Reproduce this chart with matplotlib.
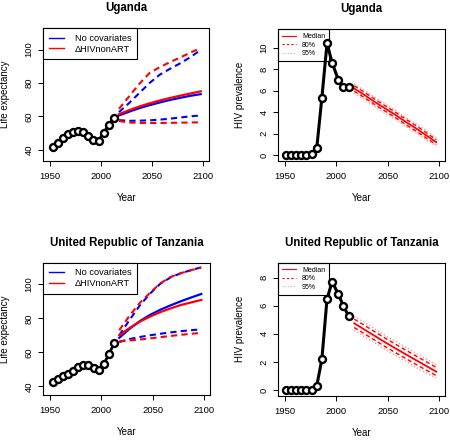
import matplotlib
matplotlib.use("Agg")
import matplotlib.pyplot as plt
from matplotlib.lines import Line2D

plt.rcParams['font.family'] = ['Liberation Sans', 'DejaVu Sans']

# ---------------- data ----------------
le_years = [1952.5, 1957.5, 1962.5, 1967.5, 1972.5, 1977.5, 1982.5, 1987.5,
            1992.5, 1997.5, 2002.5, 2007.5, 2012.5]
proj_years = [2017.5, 2027.5, 2037.5, 2047.5, 2057.5, 2067.5, 2077.5, 2087.5, 2097.5]
hiv_years = [1951, 1956, 1961, 1966, 1971, 1976, 1981, 1986, 1991, 1996, 2002, 2007, 2012]

# Uganda life expectancy
uga_le_obs = [41.5, 44.0, 47.0, 49.5, 50.5, 51.0, 50.5, 48.5, 46.0, 45.5, 50.0, 55.0, 59.0]
uga_nocov_med = [60.5, 62.8, 64.9, 66.7, 68.3, 69.8, 71.1, 72.3, 73.3]
uga_nocov_up = [62.5, 68.0, 74.0, 80.0, 85.0, 88.5, 91.8, 95.5, 99.8]
uga_nocov_lo = [57.7, 57.3, 57.4, 57.6, 58.0, 58.6, 59.3, 60.0, 60.5]
uga_hiv_med = [61.3, 63.7, 65.9, 67.8, 69.5, 71.0, 72.4, 73.7, 75.0]
uga_hiv_up = [64.5, 72.0, 79.5, 86.0, 89.5, 92.5, 95.3, 98.2, 101.0]
uga_hiv_lo = [57.2, 56.3, 56.0, 56.0, 56.0, 56.1, 56.2, 56.3, 56.4]

# Tanzania life expectancy
tza_le_obs = [42.7, 44.5, 46.0, 47.5, 49.2, 51.5, 52.3, 52.3, 50.6, 49.6, 53.1, 59.0, 65.3]
tza_nocov_med = [68.5, 73.8, 78.3, 82.0, 85.0, 87.6, 90.0, 92.2, 94.3]
tza_nocov_up = [70.0, 79.0, 87.5, 94.5, 100.3, 104.0, 106.5, 108.3, 110.0]
tza_nocov_lo = [66.0, 67.8, 69.0, 70.0, 70.9, 71.7, 72.4, 73.0, 73.5]
tza_hiv_med = [70.0, 74.3, 78.0, 81.0, 83.6, 85.8, 87.8, 89.3, 90.8]
tza_hiv_up = [73.0, 81.5, 89.0, 95.0, 100.5, 104.3, 106.5, 108.3, 109.8]
tza_hiv_lo = [66.5, 67.0, 67.5, 68.2, 68.9, 69.6, 70.3, 70.9, 71.4]

# HIV prevalence
uga_prev_obs = [0.0, 0.0, 0.0, 0.0, 0.0, 0.05, 0.65, 5.35, 10.4, 8.6, 7.0, 6.37, 6.37]
uga_prev_med = [6.2, 5.6, 4.95, 4.35, 3.75, 3.1, 2.5, 1.85, 1.2]
uga_prev_80u = [6.45, 5.85, 5.2, 4.6, 4.0, 3.35, 2.75, 2.1, 1.42]
uga_prev_80l = [5.95, 5.35, 4.7, 4.1, 3.5, 2.85, 2.25, 1.6, 0.98]
uga_prev_95u = [6.62, 6.02, 5.37, 4.77, 4.17, 3.52, 2.92, 2.27, 1.57]
uga_prev_95l = [5.78, 5.18, 4.53, 3.93, 3.33, 2.68, 2.08, 1.43, 0.85]

tza_prev_obs = [0.0, 0.0, 0.0, 0.0, 0.0, 0.02, 0.29, 2.19, 6.48, 7.72, 6.82, 5.99, 5.27]
tza_prev_med = [4.75, 4.3, 3.85, 3.4, 2.97, 2.55, 2.13, 1.72, 1.3]
tza_prev_80u = [5.05, 4.6, 4.15, 3.7, 3.27, 2.85, 2.43, 2.02, 1.6]
tza_prev_80l = [4.45, 4.0, 3.55, 3.1, 2.67, 2.25, 1.83, 1.42, 1.02]
tza_prev_95u = [5.25, 4.8, 4.35, 3.9, 3.47, 3.05, 2.63, 2.22, 1.78]
tza_prev_95l = [4.25, 3.8, 3.35, 2.9, 2.47, 2.05, 1.63, 1.22, 0.85]

x_ticks = [1950, 2000, 2050, 2100]
le_ticks = [40, 60, 80, 100]
uga_prev_ticks = [0, 2, 4, 6, 8, 10]
tza_prev_ticks = [0, 2, 4, 6, 8]

BLUE = '#0000FF'
RED = '#FF0000'
PINK = '#FF9A9A'

fig = plt.figure(figsize=(4.5, 4.4), dpi=100)

def style(ax, yticks, ylim, xlabel, ylabel, title):
    ax.set_xlim(1943.5, 2106)
    ax.set_ylim(*ylim)
    ax.set_xticks(x_ticks)
    ax.set_yticks(yticks)
    for s in ax.spines.values():
        s.set_linewidth(0.8)
    ax.tick_params(direction='out', length=3.5, width=0.7, labelsize=6.8)
    ax.tick_params(axis='x', pad=4.5)
    ax.tick_params(axis='y', pad=3.5, labelrotation=90)
    for lbl in ax.get_yticklabels():
        lbl.set_va('center')
    ax.set_xlabel(xlabel, fontsize=7)
    ax.set_ylabel(ylabel, fontsize=7)
    ax.xaxis.set_label_coords(0.5, -0.245)
    ax.yaxis.set_label_coords(-0.2, 0.5)
    ax.set_title(title, fontsize=8.3, fontweight='bold', pad=12.3)


def le_panel(rect, obs, ncm, ncu, ncl, hm, hu, hl, title, ylim):
    ax = fig.add_axes(rect)
    ax.plot(le_years, obs, color='black', lw=2.0, marker='o', ms=5.0,
            mfc='white', mec='black', mew=1.7, zorder=3)
    dash = (3.0, 2.0)
    ax.plot(proj_years, ncu, color=BLUE, lw=1.5, ls=(0, dash))
    ax.plot(proj_years, ncl, color=BLUE, lw=1.5, ls=(0, dash))
    ax.plot(proj_years, hu, color=RED, lw=1.5, ls=(0, dash))
    ax.plot(proj_years, hl, color=RED, lw=1.5, ls=(0, dash))
    ax.plot(proj_years, ncm, color=BLUE, lw=1.6)
    ax.plot(proj_years, hm, color=RED, lw=1.6)
    style(ax, le_ticks, ylim, 'Year', 'Life expectancy', title)
    handles = [Line2D([], [], color=BLUE, lw=1.0), Line2D([], [], color=RED, lw=1.0)]
    leg = ax.legend(handles, ['No covariates', '\u0394HIVnonART'], loc='upper left',
                    borderaxespad=0, fontsize=6.7, fancybox=False, framealpha=1,
                    edgecolor='black', handlelength=1.6, handletextpad=1.2,
                    borderpad=0.6, labelspacing=0.2)
    leg.get_frame().set_linewidth(0.8)
    return ax


def prev_panel(rect, obs, med, u80, l80, u95, l95, title, ylim, yticks):
    ax = fig.add_axes(rect)
    ax.plot(hiv_years, obs, color='black', lw=2.2, marker='o', ms=5.0,
            mfc='white', mec='black', mew=1.7, zorder=3)
    ax.plot(proj_years, u95, color=PINK, lw=1.0, ls=(0, (1, 1.5)))
    ax.plot(proj_years, l95, color=PINK, lw=1.0, ls=(0, (1, 1.5)))
    ax.plot(proj_years, u80, color=RED, lw=1.0, ls=(0, (3, 2)))
    ax.plot(proj_years, l80, color=RED, lw=1.0, ls=(0, (3, 2)))
    ax.plot(proj_years, med, color=RED, lw=1.3)
    style(ax, yticks, ylim, 'Year', 'HIV prevalence', title)
    handles = [Line2D([], [], color=RED, lw=0.8),
               Line2D([], [], color=RED, lw=0.8, ls=(0, (2, 2))),
               Line2D([], [], color=PINK, lw=0.8, ls=(0, (1, 1.5)))]
    leg = ax.legend(handles, ['Median', '80%', '95%'], loc='upper left',
                    borderaxespad=0, fontsize=5.0, fancybox=False, framealpha=1,
                    edgecolor='black', handlelength=1.9, handletextpad=0.9,
                    borderpad=0.6, labelspacing=0.2)
    leg.get_frame().set_linewidth(0.8)
    leg.set_zorder(2)
    return ax


le_panel([0.0963, 0.6348, 0.369, 0.301], uga_le_obs, uga_nocov_med, uga_nocov_up,
         uga_nocov_lo, uga_hiv_med, uga_hiv_up, uga_hiv_lo, 'Uganda', (33.4, 112.8))
le_panel([0.0963, 0.1023, 0.3704, 0.3007], tza_le_obs, tza_nocov_med, tza_nocov_up,
         tza_nocov_lo, tza_hiv_med, tza_hiv_up, tza_hiv_lo,
         'United Republic of Tanzania', (34.9, 112.7))
prev_panel([0.6184, 0.634, 0.3705, 0.300], uga_prev_obs, uga_prev_med, uga_prev_80u,
           uga_prev_80l, uga_prev_95u, uga_prev_95l, 'Uganda', (-0.56, 11.74),
           uga_prev_ticks)
prev_panel([0.6184, 0.1007, 0.3705, 0.3023], tza_prev_obs, tza_prev_med, tza_prev_80u,
           tza_prev_80l, tza_prev_95u, tza_prev_95l, 'United Republic of Tanzania',
           (-0.41, 9.07), tza_prev_ticks)

fig.savefig('out.png', dpi=100)
